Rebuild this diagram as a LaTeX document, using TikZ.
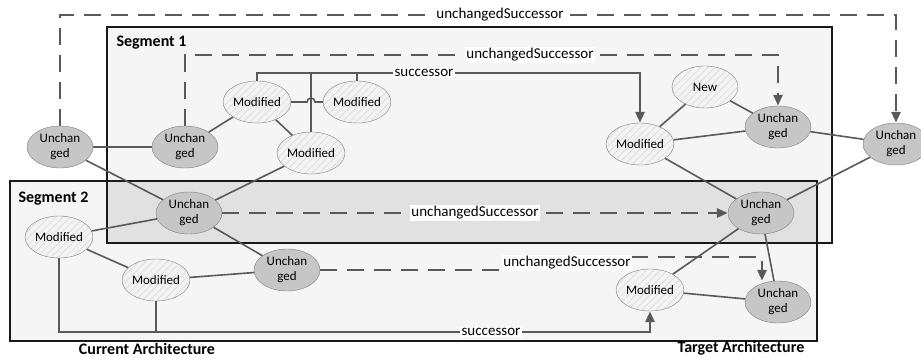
\documentclass[tikz,border=0pt]{standalone}
\usepackage{fontspec}
\setmainfont{Carlito}
\usetikzlibrary{arrows.meta,shapes.geometric,patterns.meta}
\definecolor{linegray}{RGB}{89,89,89}
\definecolor{rimgray}{RGB}{128,128,128}
\definecolor{unchfill}{RGB}{198,198,198}
\definecolor{modfill}{RGB}{243,243,243}
\definecolor{hatchgray}{RGB}{214,214,214}
\definecolor{segfill}{RGB}{245,245,245}
\definecolor{overlapfill}{RGB}{225,225,225}
\tikzset{
	unch/.style={ellipse, draw=rimgray, fill=unchfill, minimum width=66pt, minimum height=42pt, inner sep=0pt, align=center, font=\fontsize{13}{15}\selectfont},
	modi/.style={ellipse, draw=rimgray, preaction={fill=modfill}, pattern={Lines[angle=45,distance=5pt,line width=0.5pt]}, pattern color=hatchgray, minimum width=66pt, minimum height=42pt, inner sep=0pt, font=\fontsize{13}{15}\selectfont},
	link/.style={draw=linegray, line width=1.6pt},
	succ/.style={draw=linegray, line width=2.7pt},
	unsucc/.style={draw=linegray, line width=2.7pt, dash pattern=on 17pt off 10pt},
	tip/.style={-{Triangle[length=11pt,width=9pt]}},
	lbl/.style={fill=white, inner sep=1.5pt, font=\fontsize{15}{17}\selectfont},
	heading/.style={font=\fontsize{16}{19}\selectfont\bfseries}
}
\begin{document}
\begin{tikzpicture}[x=1pt, y=-1pt]
		%%%%% START %%%%%
		\useasboundingbox (0, 0) rectangle (921, 358);
		
		% segments
		\fill[segfill] (107, 27) rectangle (832, 243);
		\fill[segfill] (10, 181) rectangle (817, 341);
		\fill[overlapfill] (107, 181) rectangle (817, 243);
		\draw[line width=1.4pt, color=black!90] (107, 27) rectangle (832, 243);
		\draw[line width=1.4pt, color=black!90] (10, 181) rectangle (817, 341);
		\node[heading, anchor=west] (seg1) at (113, 43) {Segment 1};
		\node[heading, anchor=west] (seg2) at (15, 199) {Segment 2};
		
		% current architecture
		\node[unch] (cu1) at (60, 147) {Unchan\\ged};
		\node[unch] (cu2) at (185, 147) {Unchan\\ged};
		\node[modi] (cm1) at (257, 102) {Modified};
		\node[modi] (cm2) at (357, 102) {Modified};
		\node[modi] (cm3) at (311, 153) {Modified};
		\node[unch] (cu3) at (189, 213) {Unchan\\ged};
		\node[modi] (cm4) at (59, 237) {Modified};
		\node[modi] (cm5) at (156, 280) {Modified};
		\node[unch] (cu4) at (287, 270) {Unchan\\ged};
		
		% target architecture
		\node[modi] (tm1) at (640, 144) {Modified};
		\node[modi] (tn1) at (705, 87) {New};
		\node[unch] (tu1) at (778, 127) {Unchan\\ged};
		\node[unch] (tu2) at (896, 144) {Unchan\\ged};
		\node[unch] (tu3) at (761, 213) {Unchan\\ged};
		\node[modi] (tm2) at (650, 290) {Modified};
		\node[unch] (tu4) at (778, 302) {Unchan\\ged};
		
		\draw[link] (cu1) -- (cu2);
		\draw[link] (cu1) -- (cu3);
		\draw[link] (cu2) -- (cm1);
		\draw[link] (cm1) -- (cm3);
		\draw[link] (cm3) -- (cu3);
		\draw[link] (cu3) -- (cm4);
		\draw[link] (cu3) -- (cu4);
		\draw[link] (cm4) -- (cm5);
		\draw[link] (cm5) -- (cu4);
		\coordinate (hop) at (cm1.east -| cm3.north);
		\draw[link] (cm1.east) -- ([xshift=-4pt]hop) arc[start angle=180, end angle=0, radius=4pt] -- (cm2.west);
		
		\draw[link] (tm1) -- (tn1);
		\draw[link] (tn1) -- (tu1);
		\draw[link] (tm1) -- (tu1);
		\draw[link] (tu1) -- (tu2);
		\draw[link] (tm1) -- (tu3);
		\draw[link] (tu2) -- (tu3);
		\draw[link] (tu3) -- (tm2);
		\draw[link] (tu3) -- (tu4);
		\draw[link] (tm2) -- (tu4);
		
		% successor
		\coordinate (succtop) at (0, 73);
		\draw[succ, tip] (cm1.north) |- (tm1.north |- succtop) -- (tm1.north);
		\draw[succ] (cm3.north) -- (cm3.north |- succtop);
		\draw[succ] (cm2.north) -- (cm2.north |- succtop);
		\coordinate (succbot) at (0, 332);
		\draw[succ, tip] (cm4.south) |- (tm2.south |- succbot) -- (tm2.south);
		\draw[succ] (cm5.south) -- (cm5.south |- succbot);
		
		% unchangedSuccessor
		\coordinate (dashtop) at (0, 15);
		\draw[unsucc, tip] (cu1.north) |- (tu2.north |- dashtop) -- (tu2.north);
		\coordinate (dashmid) at (0, 55);
		\draw[unsucc, tip] (cu2.north) |- (tu1.north |- dashmid) -- (tu1.north);
		\draw[unsucc, tip] (cu3) -- (tu3);
		\coordinate (jog) at (567, 263);
		\coordinate (bend) at (762, 257);
		\draw[unsucc, tip] (cu4.east) -- (cu4.east -| jog) |- (bend) -- (bend |- tu4.north);
		
		\node[lbl] (l1) at (500, 15) {unchangedSuccessor};
		\node[lbl] (l2) at (530, 55) {unchangedSuccessor};
		\node[lbl] (l3) at (424, 73) {successor};
		\node[lbl] (l4) at (475, 213) {unchangedSuccessor};
		\node[lbl] (l5) at (jog) {unchangedSuccessor};
		\node[lbl] (l6) at (491, 332) {successor};
		
		\node[heading] (cur) at (147, 349) {Current Architecture};
		\node[heading] (tgt) at (741, 348) {Target Architecture};
		%%%%% END %%%%%
	\end{tikzpicture}
\end{document}
